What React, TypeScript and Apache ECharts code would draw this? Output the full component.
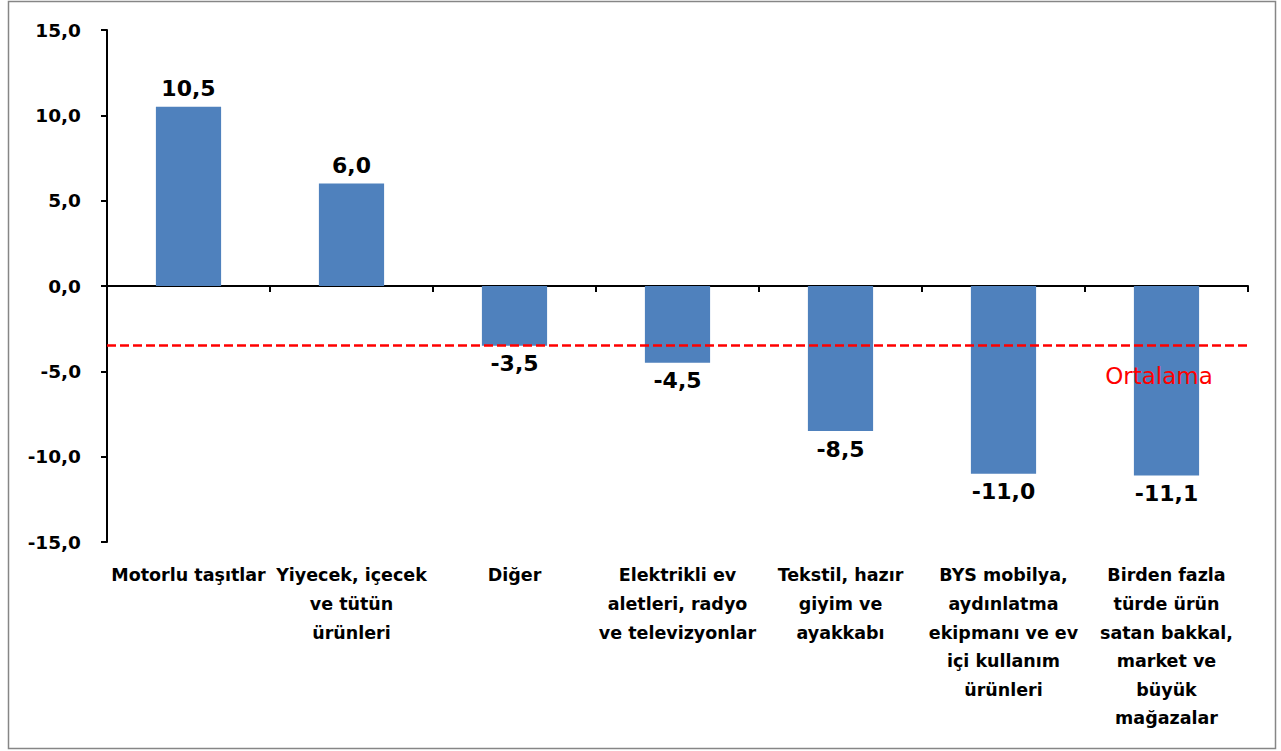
import React, { useEffect, useRef } from "react";
import * as echarts from "echarts";

const categories: string[] = [
  "Motorlu taşıtlar",
  "Yiyecek, içecek\nve tütün\nürünleri",
  "Diğer",
  "Elektrikli ev\naletleri, radyo\nve televizyonlar",
  "Tekstil, hazır\ngiyim ve\nayakkabı",
  "BYS mobilya,\naydınlatma\nekipmanı ve ev\niçi kullanım\nürünleri",
  "Birden fazla\ntürde ürün\nsatan bakkal,\nmarket ve\nbüyük\nmağazalar",
];
const values: number[] = [10.5, 6.0, -3.5, -4.5, -8.5, -11.0, -11.1];
const averageValue = -3.5;
const averageLabel = "Ortalama";
const yTicks = { min: -15, max: 15, interval: 5 };

const FONT = "'DejaVu Sans', sans-serif";
const fmt = (v: number) => v.toFixed(1).replace(".", ",");

export default function App() {
  const ref = useRef<HTMLDivElement>(null);
  useEffect(() => {
    if (!ref.current) return;
    const chart = echarts.init(ref.current, undefined, { renderer: "svg" });
    chart.setOption({
      animation: false,
      backgroundColor: "#fff",
      grid: { left: 107, right: 33, top: 30, bottom: 209, containLabel: false },
      xAxis: [
        {
          type: "category",
          data: categories,
          axisLine: { onZero: true, lineStyle: { color: "#000", width: 2 } },
          axisTick: { show: true, length: 6, alignWithLabel: false, lineStyle: { color: "#000", width: 2 } },
          axisLabel: { show: false },
          splitLine: { show: false },
        },
        {
          type: "category",
          data: categories,
          position: "bottom",
          axisLine: { show: false, onZero: false },
          axisTick: { show: false },
          axisLabel: {
            show: true,
            interval: 0,
            margin: 19,
            color: "#000",
            fontFamily: FONT,
            fontWeight: "bold",
            fontSize: 17.5,
            lineHeight: 28.6,
            align: "center",
          },
          splitLine: { show: false },
        },
      ],
      yAxis: {
        type: "value",
        min: yTicks.min,
        max: yTicks.max,
        interval: yTicks.interval,
        axisLine: { show: true, lineStyle: { color: "#000", width: 2 } },
        axisTick: { show: true, length: 6, lineStyle: { color: "#000", width: 2 } },
        axisLabel: {
          color: "#000",
          fontFamily: FONT,
          fontWeight: "bold",
          fontSize: 18.5,
          margin: 26,
          formatter: (v: number) => fmt(v),
        },
        splitLine: { show: false },
      },
      series: [
        {
          type: "bar",
          xAxisIndex: 0,
          barWidth: "40%",
          itemStyle: { color: "#4F81BD" },
          data: values.map((v) => ({
            value: v,
            label: { position: v >= 0 ? "top" : "bottom" },
          })),
          label: {
            show: true,
            distance: 7,
            color: "#000",
            fontFamily: FONT,
            fontWeight: "bold",
            fontSize: 22,
            formatter: (p: any) => fmt(p.value),
          },
          markLine: {
            silent: true,
            symbol: "none",
            label: { show: false },
            lineStyle: { color: "#FF0000", width: 2.5, type: [9, 4] },
            data: [{ yAxis: averageValue }],
          },
        },
      ],
      graphic: [
        {
          type: "rect",
          shape: { x: 8.5, y: 1.5, width: 1267, height: 747 },
          style: { fill: "none", stroke: "#868686", lineWidth: 1.5 },
          z: 100,
        },
        {
          type: "text",
          x: 1159,
          y: 376,
          z: 100,
          style: {
            text: averageLabel,
            fill: "#FF0000",
            font: `23px ${FONT}`,
            textAlign: "center",
            textVerticalAlign: "middle",
          },
        },
      ],
    });
    return () => chart.dispose();
  }, []);
  return (
    <div
      ref={ref}
      style={{ position: "absolute", left: 0, top: 0, width: 1281, height: 751 }}
    />
  );
}
